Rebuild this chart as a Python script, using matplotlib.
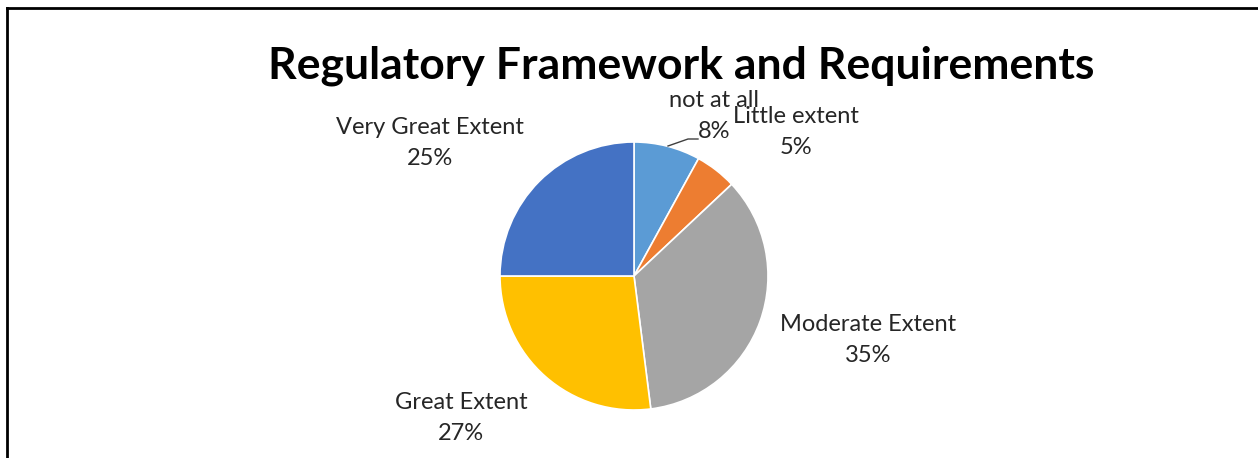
import matplotlib
matplotlib.use("Agg")
import matplotlib.pyplot as plt
from matplotlib.lines import Line2D

categories = ["not at all", "Little extent", "Moderate Extent", "Great Extent", "Very Great Extent"]
values = [8, 5, 35, 27, 25]
colors = ["#5B9BD5", "#ED7D31", "#A5A5A5", "#FFC000", "#4472C4"]
title = "Regulatory Framework and Requirements"

W, H = 1258, 458
fig = plt.figure(figsize=(W / 100, H / 100), dpi=100)
ax = fig.add_axes([0, 0, 1, 1])
ax.set_xlim(0, W)
ax.set_ylim(0, H)
ax.set_aspect("equal")
ax.axis("off")

cx, cy, r = 634, H - 276, 134
ax.pie(values, colors=colors, startangle=90, counterclock=False,
       center=(cx, cy), radius=r,
       wedgeprops=dict(edgecolor="white", linewidth=1.2))
ax.set_xlim(0, W)
ax.set_ylim(0, H)

# label anchor points (pixel space, y measured from top)
label_pos = [(714, 116), (796, 132), (868, 340), (461, 418), (430, 143)]
font = ["Lato", "DejaVu Sans"]
for name, v, (lx, ly) in zip(categories, values, label_pos):
    ax.text(lx, H - ly, f"{name}\n{v}%", ha="center", va="center",
            fontsize=17, family=font, color="#262626", linespacing=1.55)

# leader line for the small slice label
ax.plot([668, 688, 698], [H - 146, H - 139, H - 139], color="#404040", lw=1)

fig.text(681 / W, 1 - 66 / H, title, ha="center", va="center",
         fontsize=32, fontweight="bold", family=font, color="black")

# chart frame
fig.add_artist(Line2D([7 / W, 1], [1 - 8 / H, 1 - 8 / H], transform=fig.transFigure,
                      color="black", lw=2))
fig.add_artist(Line2D([7 / W, 7 / W], [0, 1 - 8 / H], transform=fig.transFigure,
                      color="black", lw=2))

fig.savefig("out.png", dpi=100)
